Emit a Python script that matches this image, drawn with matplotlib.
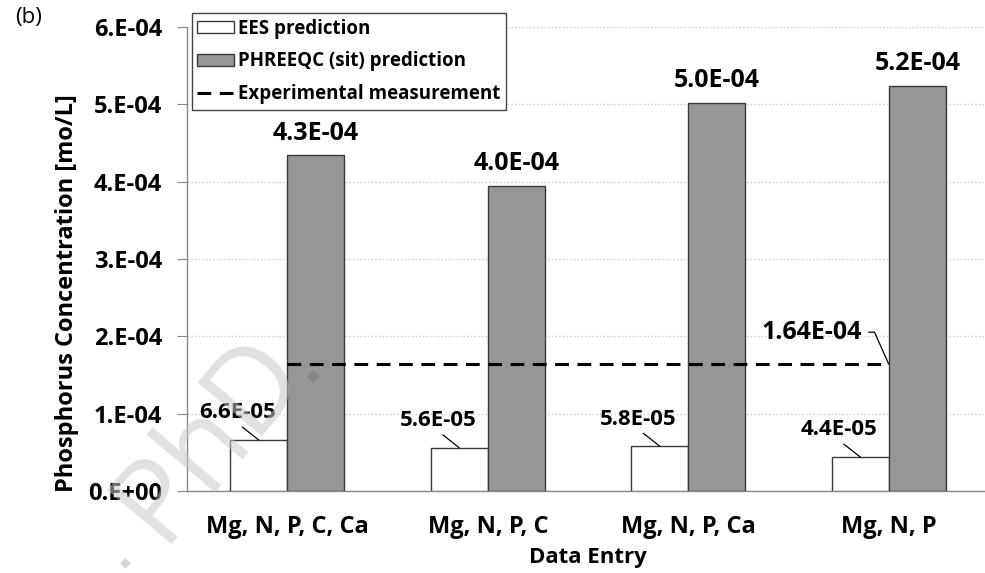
import matplotlib
matplotlib.use("Agg")
import matplotlib.pyplot as plt
import numpy as np

plt.rcParams['font.family'] = ['Open Sans', 'DejaVu Sans']

categories = ["Mg, N, P, C, Ca", "Mg, N, P, C", "Mg, N, P, Ca", "Mg, N, P"]
ees = [6.6e-05, 5.6e-05, 5.8e-05, 4.4e-05]
phreeqc = [4.34e-04, 3.95e-04, 5.02e-04, 5.24e-04]
ees_labels = ["6.6E-05", "5.6E-05", "5.8E-05", "4.4E-05"]
phreeqc_labels = ["4.3E-04", "4.0E-04", "5.0E-04", "5.2E-04"]
experimental = 1.64e-04
experimental_label = "1.64E-04"
yticks = [0, 1e-4, 2e-4, 3e-4, 4e-4, 5e-4, 6e-4]
ytick_labels = ["0.E+00", "1.E-04", "2.E-04", "3.E-04", "4.E-04", "5.E-04", "6.E-04"]

W, H = 985, 573
fig = plt.figure(figsize=(W/100, H/100), dpi=100)
ax = fig.add_axes([187/W, 82/H, 800/W, 464/H])

x = np.arange(len(categories))
w = 0.285
edge = "#3a3a3a"
b1 = ax.bar(x - w/2, ees, w, color="white", edgecolor=edge, linewidth=1.0,
            label="EES prediction", zorder=3)
b2 = ax.bar(x + w/2, phreeqc, w, color="#969696", edgecolor=edge, linewidth=1.0,
            label="PHREEQC (sit) prediction", zorder=3)
ln, = ax.plot([x[0], x[-1]], [experimental, experimental], color="black",
              linewidth=2.2, dashes=(4.5, 2.8), label="Experimental measurement", zorder=4)

# labels
for xi, v, lab in zip(x, ees, ees_labels):
    ax.annotate(lab, xy=(xi - w/2, v), xytext=(-21, 27), textcoords="offset pixels",
                ha="center", va="center", fontsize=16, fontweight="bold",
                arrowprops=dict(arrowstyle="-", color="black", lw=0.9,
                                shrinkA=1, shrinkB=0, relpos=(0.5, 0.0)), zorder=6)
for xi, v, lab in zip(x, phreeqc, phreeqc_labels):
    ax.annotate(lab, xy=(xi + w/2, v), xytext=(0, 22), textcoords="offset pixels",
                ha="center", va="center", fontsize=18, fontweight="bold", zorder=6)
ax.annotate(experimental_label, xy=(x[-1], experimental), xytext=(-27, 32),
            textcoords="offset pixels", ha="right", va="center",
            fontsize=18, fontweight="bold",
            arrowprops=dict(arrowstyle="-", color="black", lw=0.9, shrinkA=3, shrinkB=0,
                            relpos=(1.0, 0.5),
                            connectionstyle="angle,angleA=0,angleB=114,rad=0"), zorder=6)

ax.set_xlim(-0.5, 3.49)
ax.set_ylim(0, 6e-4)
ax.set_yticks(yticks)
ax.set_yticklabels(ytick_labels, fontsize=17, fontweight="bold")
ax.set_xticks(x)
ax.set_xticklabels(categories, fontsize=17, fontweight="bold")
ax.tick_params(axis="x", length=0, pad=17)
ax.tick_params(axis="y", length=7, width=0.8, color="#888888", pad=11)
ax.grid(axis="y", color="#cccccc", linestyle=":", linewidth=1.0, zorder=0)
for s in ["top", "right"]:
    ax.spines[s].set_visible(False)
for s in ["left", "bottom"]:
    ax.spines[s].set_color("#888888")
    ax.spines[s].set_linewidth(1.0)

fig.text(67/W, 1 - 293/H, "Phosphorus Concentration [mo/L]", fontsize=17,
         fontweight="bold", rotation=90, ha="center", va="center")
fig.text(588/W, 1 - 557/H, "Data Entry", fontsize=16, fontweight="bold",
         ha="center", va="center")

leg = ax.legend(handles=[b1, b2, ln], loc="upper left", bbox_to_anchor=(0.006, 1.03),
                fancybox=False, edgecolor="#444444", framealpha=1,
                handlelength=1.95, handleheight=0.6, handletextpad=0.2, labelspacing=0.68,
                borderpad=0.3, borderaxespad=0.0, prop={"weight": "bold", "size": 13.5})
leg.get_frame().set_linewidth(1.0)
leg.set_zorder(7)

fig.text(29/W, 1 - 18/H, "(b)", fontsize=16, ha="center", va="center")

# watermark
fig.text(210/W, 1 - 438/H, "PhD", fontsize=84, color="#c8c8c8", alpha=0.55,
         rotation=50, ha="center", va="center", zorder=10)
fig.text(125/W, 1 - 563/H, "\u25c6", fontsize=10, color="#bbbbbb", alpha=0.6,
         ha="center", va="center")
fig.text(313/W, 1 - 378/H, "\u25c6", fontsize=12, color="#777777", alpha=0.5,
         ha="center", va="center", zorder=10)

fig.savefig("out.png", dpi=100)
